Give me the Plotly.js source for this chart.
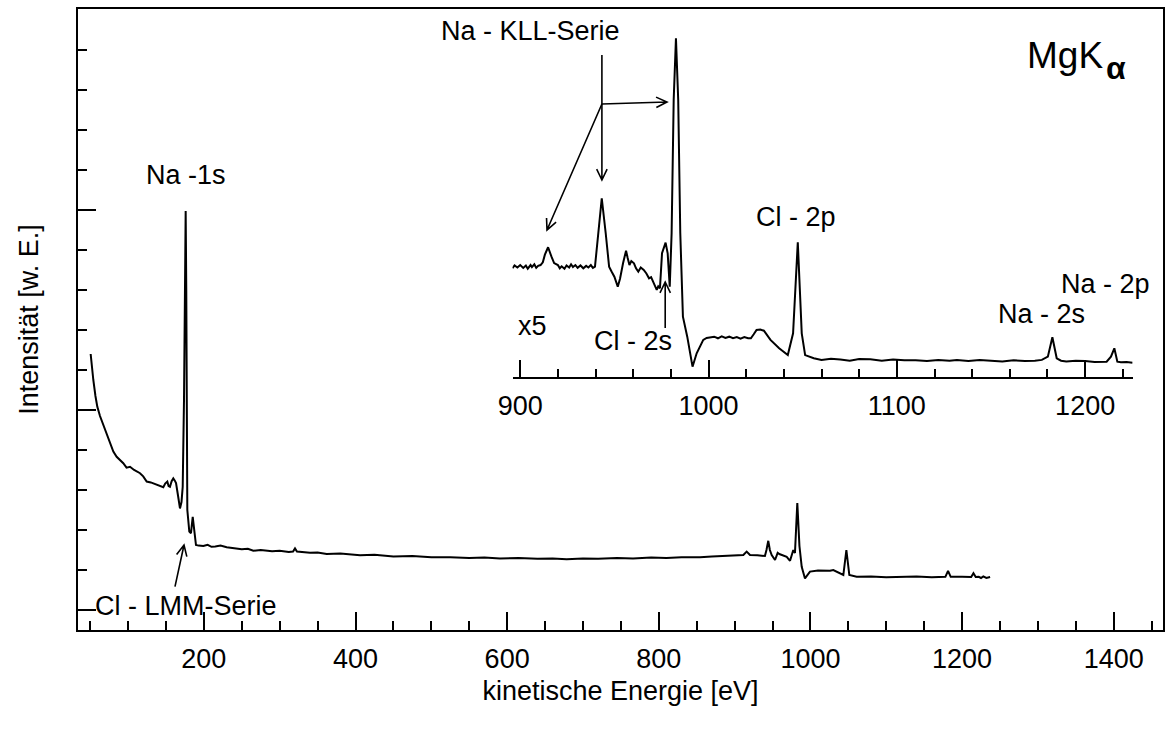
<!DOCTYPE html>
<html><head><meta charset="utf-8">
<script src="https://cdn.plot.ly/plotly-3.0.1.min.js"></script>
<style>html,body{margin:0;padding:0;background:#fff}#chart{width:1165px;height:731px}</style>
</head><body><div id="chart"></div>
<script>
// ---- data ----
// overview spectrum (kinetic energy in eV, intensity in arbitrary units)
const mainEnergy = [50.7,52.5,54.2,57,59.5,63,67.4,70,74,77,80.6,85,90,93.7,98,102.6,108,115.8,120,124.6,130,137.8,142,146.5,149,151.8,153.5,155.3,157.5,159.7,161.5,163.3,166,168.5,170.5,172.1,173.8,175,176,176.8,177.4,178.2,180.8,183,185.3,187.4,189.6,193,199.3,205,210,215,222,230.1,240,250,258,265.2,275,290,300,312,317.6,320.2,322.8,330,340,350,362,380,406,425,450,475,500,525,550,570,590.6,615,640,660,678.5,700,720,745,766,790,810,830,854.4,870,890,900,911.5,915.9,920.3,930,940,942,944.4,946.5,948.9,953.3,956.8,959,962.1,968.7,973.1,975.5,977.4,979.6,982.7,985.5,988.5,992.8,999.4,1010,1025.8,1030.2,1043.4,1047.4,1051.3,1061,1080,1100,1118,1140,1160,1178,1181.5,1185,1200,1212,1215,1218,1222,1225,1228,1232,1237];
const mainIntensity = [64,60,57.5,53.5,50.8,48.5,46.25,45,43.3,41.5,39.6,38.3,37.4,36.7,35.6,35.8,35,34.2,33.4,32.1,31.9,31.25,31,30.7,31.6,32.1,31,30.8,32.2,32.9,32.4,31.75,28.5,25.4,27,30.8,52.5,80,99.75,80,52.5,25,19.6,19.2,23.3,19.25,16.25,16.1,16,16.3,15.8,15.9,16.1,15.7,15.5,15.2,15.3,14.8,15,14.7,14.8,14.5,14.6,15.4,14.6,14.5,14.3,14.4,14,14.1,13.7,13.8,13.4,13.5,13.2,13.2,13,13.1,12.9,13,12.8,12.9,12.7,12.9,12.8,13,12.9,13.1,13,13.2,13.2,13.4,13.5,13.6,13.75,14.6,13.75,13.7,13.5,15,17.3,15,13.75,12.5,14.3,14,13.75,13.3,12.3,14,15,14.25,26.75,16,10.8,7.9,9.6,9.9,9.8,10,8.75,15,8.75,8.3,8.4,8.2,8.3,8.4,8.2,8.3,9.8,8.3,8.3,8.25,9.2,8.25,8.3,8,8.4,8,8.25];

// inset: high-energy part magnified (x5)
const insetEnergy = [895.9,897,898.5,900,901.6,903,904,905.5,906.2,907.5,908.5,909.5,910.8,912,913.1,914.8,916.6,918,920,921,922,923.5,924.6,926,927,928,929.3,930.5,932,933.5,935,936.2,937.5,938.6,939.7,941.3,943.3,945.4,947.2,948.5,950,951.8,953,954.6,956.2,957,958,959,960.4,961.5,962.7,964,965.6,967,968.4,969.5,970.7,971.6,972.5,973.3,974.2,975.3,977.2,978.3,979.4,980.4,981.5,982.7,983.9,985,986.4,988.7,991.5,993.7,997.2,999,1001,1003,1005,1007,1009,1011,1013,1015,1017,1019,1021,1022.5,1024,1025.5,1027.5,1029.4,1032.9,1037.5,1042.1,1044.9,1047.4,1049.5,1051.3,1055.9,1060,1065,1070,1075,1080,1085.9,1092,1098,1104,1110,1116,1122,1128,1131.9,1138,1144,1150,1156,1162,1168,1173.3,1177,1180.2,1182.6,1184.9,1187.2,1190,1195,1200,1205,1211.4,1213.7,1215.5,1217.1,1219,1222,1225.2];
const insetIntensity = [27.1,27.8,27.3,27.9,27.2,27.8,27,27.9,27.4,28.1,27.2,27.7,27.9,28.6,30.5,32.35,30,28.4,27.9,27.1,27.6,27,27.8,27.3,28.1,27.4,27.9,27.2,27.8,27.1,27.7,27.3,27.9,27.2,27.5,35.9,44.6,35.85,27.5,26.3,25,22.5,24.5,28.35,31.5,29.8,27.9,28.9,28.35,27.1,26.25,27.3,26.7,25.8,24.6,24.9,23.75,22.8,21.7,22.6,22.1,30.85,33.5,30.85,22.5,35.85,69.2,84.6,69.2,35.85,15,10,2.5,5.85,9.2,9.7,9.9,10,9.6,10.1,9.7,10,9.6,9.9,9.5,9.9,9.6,9.6,10.6,11.7,11.8,11.5,9.2,7.1,5.4,10.85,33.6,10.85,5.4,4.6,4.2,4.5,4.3,4,4.4,4.35,4,4.3,4.1,4.1,3.9,4.2,4,4.2,3.9,4.2,4,3.8,4.1,3.9,4,4.2,5,9.85,4.6,4,3.8,4,3.9,3.7,3.75,5,7.1,3.75,3.6,3.7,3.5];

// ---- geometry (pixels of the plotting area) ----
const L = 78, T = 9, W = 1085, H = 621;
const FONT = 'Liberation Sans, Arial, sans-serif';
function px(x) { return (x - L) / W; }
function py(y) { return (T + H - y) / H; }

const labels = [
  {text: 'Na -1s', x: 185.5, y: 174.6},
  {text: 'Cl - LMM-Serie', x: 186, y: 606.3},
  {text: 'Na - KLL-Serie', x: 530, y: 30.6},
  {text: 'Cl - 2p', x: 796, y: 217.3},
  {text: 'x5', x: 532, y: 325.6},
  {text: 'Cl - 2s', x: 632.5, y: 340.6},
  {text: 'Na - 2s', x: 1041, y: 313.6},
  {text: 'Na - 2p', x: 1105.5, y: 283.6}
];

const arrows = [
  [175, 586.7, 184, 545],
  [601.9, 55, 601.9, 180],
  [601.9, 104, 667, 102],
  [601.9, 104, 547, 230],
  [665.2, 328, 665.2, 282]
];

function arrowPath(a) {
  const [x1, y1, x2, y2] = a;
  const ang = Math.atan2(y2 - y1, x2 - x1);
  const len = 12, spread = 0.45;
  const h1x = x2 - len * Math.cos(ang - spread), h1y = y2 - len * Math.sin(ang - spread);
  const h2x = x2 - len * Math.cos(ang + spread), h2y = y2 - len * Math.sin(ang + spread);
  const P = (x, y) => px(x).toFixed(5) + ',' + py(y).toFixed(5);
  return 'M ' + P(x1, y1) + ' L ' + P(x2, y2) + ' M ' + P(h1x, h1y) + ' L ' + P(x2, y2) + ' L ' + P(h2x, h2y);
}

const annotations = labels.map(l => ({
  text: l.text, xref: 'paper', yref: 'paper', x: px(l.x), y: py(l.y),
  xanchor: 'center', yanchor: 'middle', showarrow: false,
  font: {family: FONT, size: 27, color: '#000'}
}));
annotations.push({text: 'MgK', xref: 'paper', yref: 'paper', x: px(1025), y: py(55), xanchor: 'left', yanchor: 'middle', showarrow: false, font: {family: FONT, size: 37, color: '#000'}});
annotations.push({text: '<b>α</b>', xref: 'paper', yref: 'paper', x: px(1104), y: py(68), xanchor: 'left', yanchor: 'middle', showarrow: false, font: {family: FONT, size: 32, color: '#000'}});

const shapes = arrows.map(a => ({type: 'path', xref: 'paper', yref: 'paper', path: arrowPath(a), line: {color: '#000', width: 1.6}}));

const traces = [
  {x: mainEnergy, y: mainIntensity, mode: 'lines', line: {color: '#000', width: 2}, xaxis: 'x', yaxis: 'y', hoverinfo: 'skip'},
  {x: insetEnergy, y: insetIntensity, mode: 'lines', line: {color: '#000', width: 2}, xaxis: 'x2', yaxis: 'y2', hoverinfo: 'skip'}
];

const layout = {
  width: 1165, height: 731,
  margin: {l: L, r: 1165 - L - W, t: T, b: 731 - T - H},
  paper_bgcolor: '#fff', plot_bgcolor: '#fff', showlegend: false,
  font: {family: FONT, size: 27, color: '#000'},
  xaxis: {
    domain: [0, 1], range: [34, 1465], tick0: 0, dtick: 200,
    ticks: 'inside', ticklen: 18, tickwidth: 2, tickcolor: '#000',
    minor: {dtick: 50, ticks: 'inside', ticklen: 9, tickwidth: 2, tickcolor: '#000'},
    showline: true, linewidth: 2, linecolor: '#000', mirror: true,
    showgrid: false, zeroline: false, automargin: false, ticklabelstandoff: 4,
    tickfont: {family: FONT, size: 27, color: '#000'},
    title: {text: 'kinetische Energie [eV]', font: {family: FONT, size: 27, color: '#000'}, standoff: 8}
  },
  yaxis: {
    domain: [0, 1], range: [-5, 150.25], tick0: 0, dtick: 50,
    ticks: 'inside', ticklen: 18, tickwidth: 2, tickcolor: '#000',
    minor: {dtick: 10, ticks: 'inside', ticklen: 9, tickwidth: 2, tickcolor: '#000'},
    showticklabels: false, showline: true, linewidth: 2, linecolor: '#000', mirror: true,
    showgrid: false, zeroline: false, automargin: false,
    title: {text: 'Intensität [w. E.]', font: {family: FONT, size: 27, color: '#000'}, standoff: 30}
  },
  xaxis2: {
    domain: [px(512.5), px(1132.6)], anchor: 'y2', range: [895.9, 1225.2], tick0: 0, dtick: 100,
    ticks: 'inside', ticklen: 17, tickwidth: 2, tickcolor: '#000',
    minor: {dtick: 20, ticks: 'inside', ticklen: 8, tickwidth: 2, tickcolor: '#000'},
    showline: true, linewidth: 2, linecolor: '#000', ticklabelstandoff: 4,
    showgrid: false, zeroline: false,
    tickfont: {family: FONT, size: 27, color: '#000'}
  },
  yaxis2: {domain: [py(376.7), 1], anchor: 'x2', range: [0, 91.9], visible: false},
  annotations: annotations,
  shapes: shapes
};

Plotly.newPlot('chart', traces, layout, {staticPlot: true, displayModeBar: false});
</script>
</body></html>
